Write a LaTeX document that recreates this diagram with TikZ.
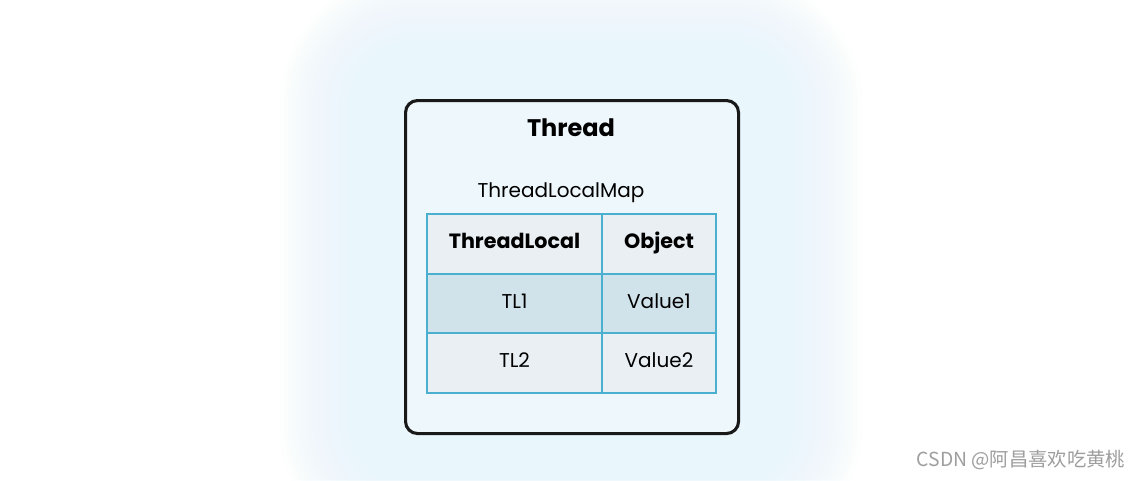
\documentclass[tikz,border=0pt]{standalone}
\usepackage{fontspec}
\setmainfont{Poppins}
\newfontfamily\cjkfont{Noto Sans CJK SC}
\definecolor{glow}{HTML}{E9F6FC}
\definecolor{boxfill}{HTML}{EEF7FC}
\definecolor{cellline}{HTML}{4BAFD0}
\definecolor{cellA}{HTML}{E9EFF3}
\definecolor{cellB}{HTML}{D1E3EA}
\definecolor{wm}{HTML}{9E9E9E}
\begin{document}
\begin{tikzpicture}[x=0.75pt,y=-0.75pt,
  cell/.style={draw=cellline,line width=1.5pt,minimum width=#1*0.75pt,minimum height=59.5*0.75pt,inner sep=0pt,anchor=north west,text height=0.75em,text depth=0pt,font=\fontsize{15}{17}\selectfont}]
\useasboundingbox (0,0) rectangle (1142,480);
\fill[white] (0,0) rectangle (1142,480);
\begin{scope}
\clip (0,0) rectangle (1142,480);
\foreach \k in {1,...,30}{
  \pgfmathsetmacro{\d}{165+4.2*\k}
  \fill[glow,fill opacity=0.08,rounded corners={(10+4*\k)*0.75pt}] (571-\d,265-\d) rectangle (571+\d,265+\d);
}
\end{scope}
\node[draw=black!90,line width=2.3pt,rounded corners=9pt,fill=boxfill,minimum width=333*0.75pt,minimum height=333*0.75pt,anchor=north west] (thread) at (404,99) {};
\node[font=\fontsize{18}{20}\selectfont\bfseries] (title) at (571,128) {Thread};
\node[font=\fontsize{15}{18}\selectfont\fontseries{l}\selectfont] (maplabel) at (561,192.5) {ThreadLocalMap};
\node[cell=175,fill=cellA,font=\fontsize{15.5}{17}\selectfont\bfseries] (h1) at (426,213) {ThreadLocal};
\node[cell=114,fill=cellA,font=\fontsize{15.5}{17}\selectfont\bfseries] (h2) at (601,213) {Object};
\node[cell=175,fill=cellB] (r11) at (426,272.5) {TL1};
\node[cell=114,fill=cellB] (r12) at (601,272.5) {Value1};
\node[cell=175,fill=cellA] (r21) at (426,332) {TL2};
\node[cell=114,fill=cellA] (r22) at (601,332) {Value2};
\node[anchor=east,text=wm,font=\cjkfont\fontsize{14.5}{16}\selectfont] (wmark) at (1130,460) {CSDN @阿昌喜欢吃黄桃};
\end{tikzpicture}
\end{document}
